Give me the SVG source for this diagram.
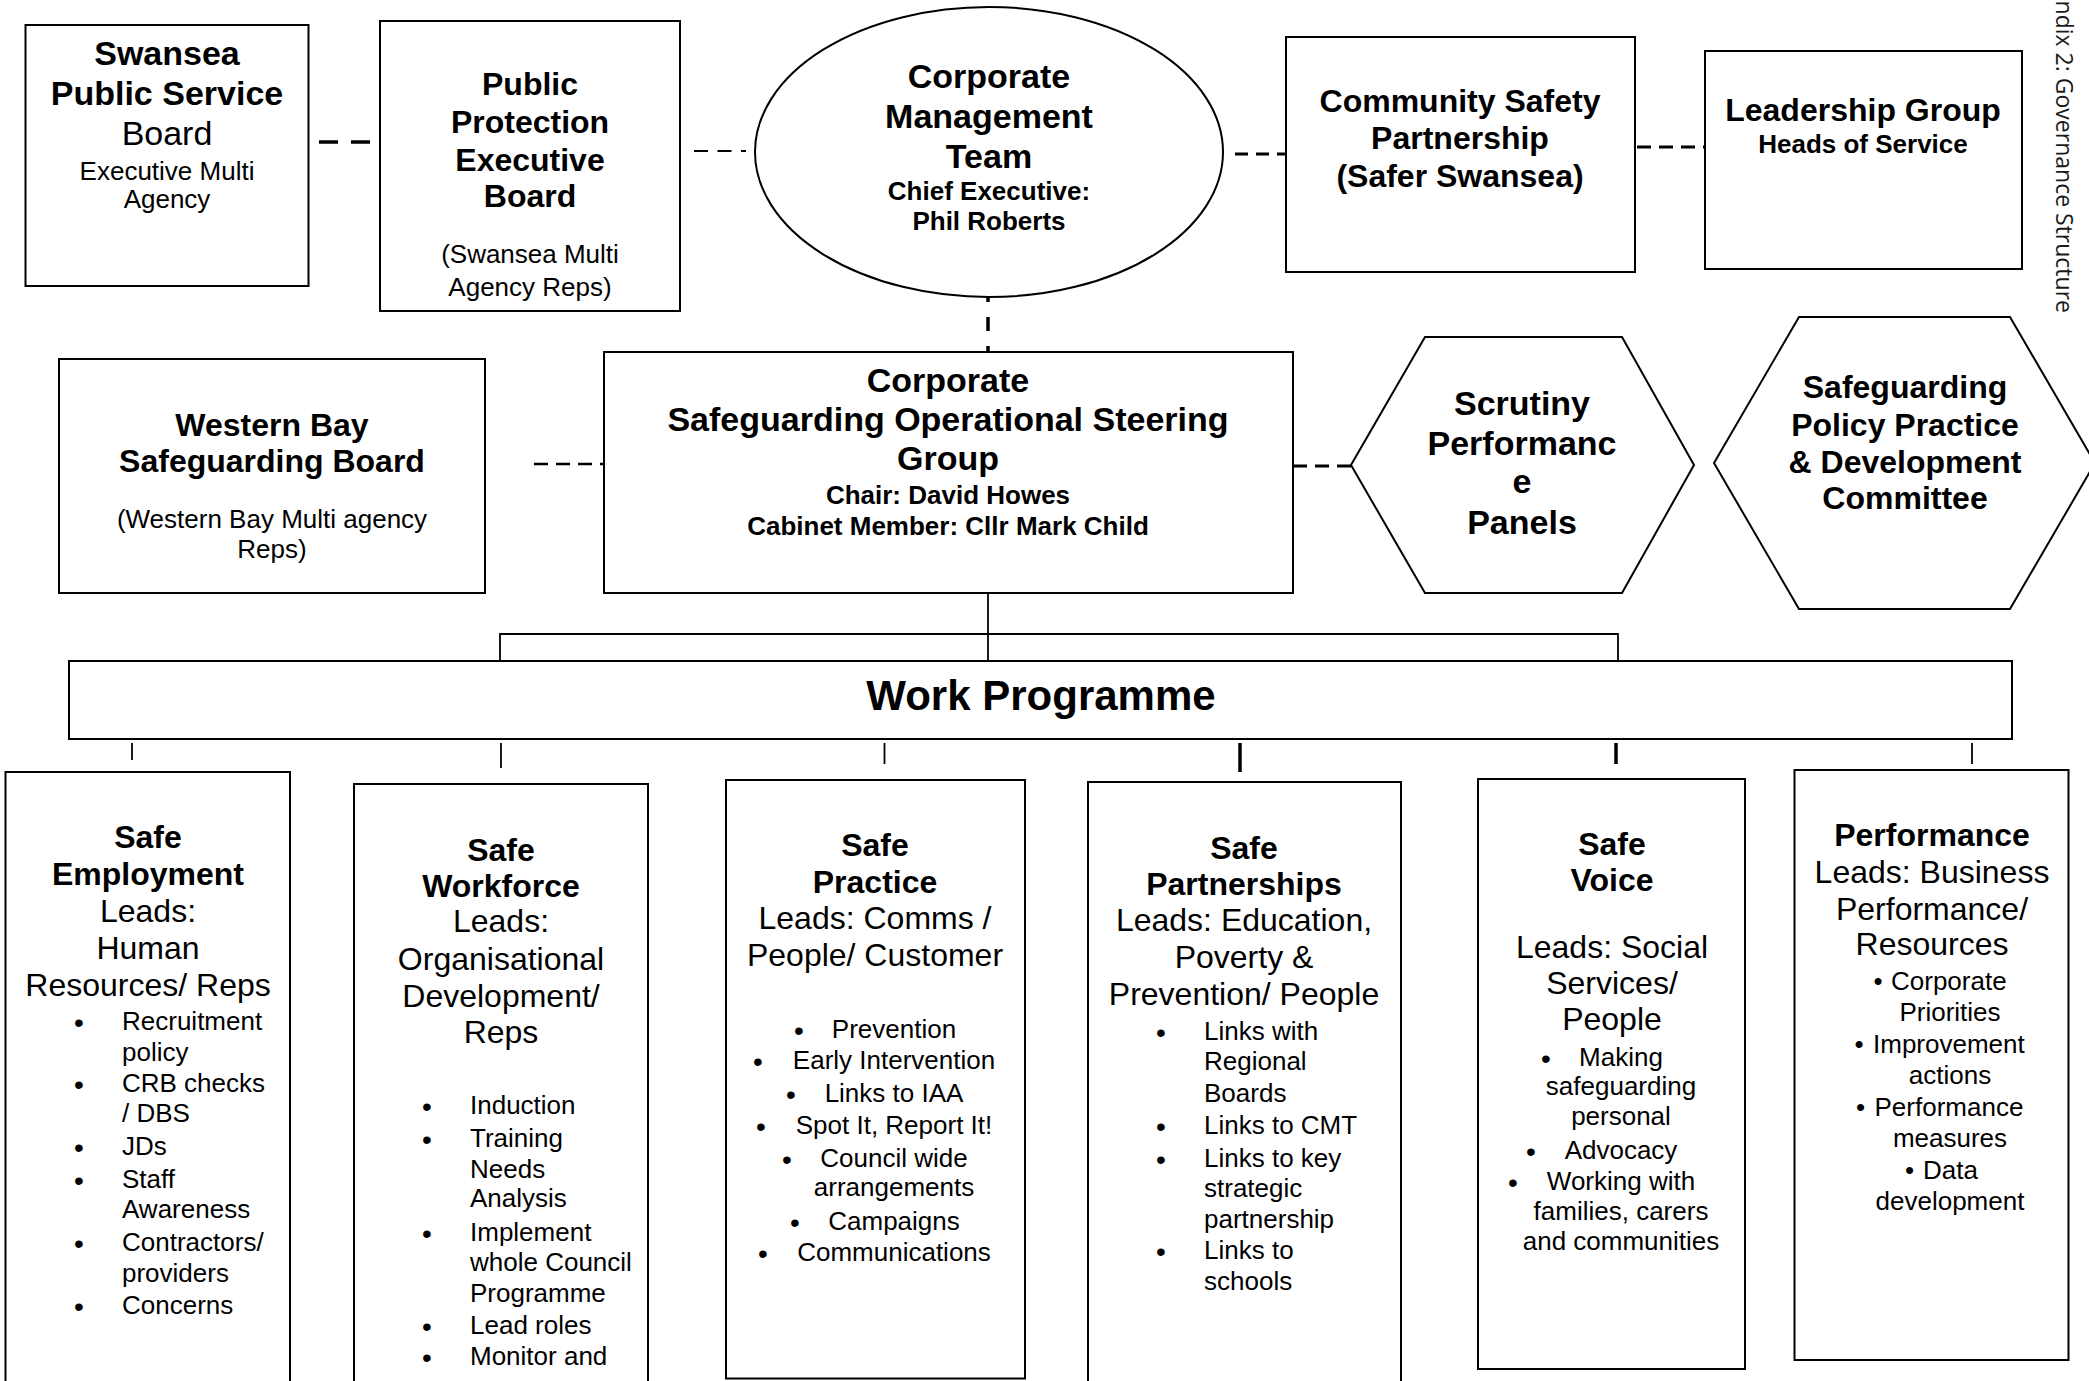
<svg xmlns="http://www.w3.org/2000/svg" width="2089" height="1381" viewBox="0 0 2089 1381">
<style>
text{font-family:"Liberation Sans",Arial,sans-serif;fill:#000}
.c{text-anchor:middle}
.b34{font-size:34px;font-weight:bold}
.b32{font-size:32px;font-weight:bold}
.b26{font-size:26px;font-weight:bold}
.b42{font-size:42px;font-weight:bold}
.r34{font-size:34px}
.r32{font-size:32px}
.r26{font-size:26px}
.bul{font-size:28px;text-anchor:middle}
.box{fill:#fff;stroke:#000;stroke-width:2}
.dash{stroke:#000;fill:none;stroke-width:3;stroke-dasharray:14 8}
.ln{stroke:#000;fill:none;stroke-width:1.8}
.side{font-family:"Open Sans","DejaVu Sans",sans-serif;font-size:23px;fill:#1a1a1a}
</style>
<rect width="2089" height="1381" fill="#fff"/>

<g id="connectors">
  <line class="dash" x1="319" y1="142" x2="370" y2="142" style="stroke-dasharray:19 13;stroke-width:3.5"/>
  <line class="dash" x1="694" y1="151" x2="746" y2="151" style="stroke-dasharray:14 9.5;stroke-width:2.2"/>
  <line class="dash" x1="1235" y1="154" x2="1286" y2="154" style="stroke-dasharray:13 8"/>
  <line class="dash" x1="1637" y1="147" x2="1705" y2="147"/>
  <line class="dash" x1="534" y1="464" x2="604" y2="464" style="stroke-width:2.5"/>
  <line class="dash" x1="1293" y1="466" x2="1351" y2="466"/>
  <line class="dash" x1="988" y1="288" x2="988" y2="352" style="stroke-dasharray:14 15;stroke-width:3.5"/>
  <line class="ln" x1="988" y1="585" x2="988" y2="661"/>
  <polyline class="ln" points="500,660 500,634 1618,634 1618,660"/>
  <line class="ln" x1="132" y1="743" x2="132" y2="760"/>
  <line class="ln" x1="501" y1="743" x2="501" y2="768"/>
  <line class="ln" x1="884.5" y1="743" x2="884.5" y2="764"/>
  <line class="ln" x1="1240" y1="743" x2="1240" y2="772" style="stroke-width:3.5"/>
  <line class="ln" x1="1616" y1="743" x2="1616" y2="764" style="stroke-width:3.5"/>
  <line class="ln" x1="1972" y1="743" x2="1972" y2="764"/>
</g>

<g id="swansea-psb">
  <rect class="box" x="25.5" y="25" width="283" height="261"/>
  <text class="c b34"><tspan x="167" y="65">Swansea</tspan><tspan x="167" y="105">Public Service</tspan></text>
  <text class="c r34" x="167" y="145">Board</text>
  <text class="c r26"><tspan x="167" y="180">Executive Multi</tspan><tspan x="167" y="208">Agency</tspan></text>
</g>

<g id="ppeb">
  <rect class="box" x="380" y="21" width="300" height="290"/>
  <text class="c b32"><tspan x="530" y="95">Public</tspan><tspan x="530" y="133">Protection</tspan><tspan x="530" y="171">Executive</tspan><tspan x="530" y="207">Board</tspan></text>
  <text class="c r26"><tspan x="530" y="263">(Swansea Multi</tspan><tspan x="530" y="296">Agency Reps)</tspan></text>
</g>

<g id="cmt">
  <ellipse class="box" cx="989" cy="152" rx="234" ry="145"/>
  <text class="c b34"><tspan x="989" y="88">Corporate</tspan><tspan x="989" y="128">Management</tspan><tspan x="989" y="168">Team</tspan></text>
  <text class="c b26"><tspan x="989" y="200">Chief Executive:</tspan><tspan x="989" y="230">Phil Roberts</tspan></text>
</g>

<g id="csp">
  <rect class="box" x="1286" y="37" width="349" height="235"/>
  <text class="c b32"><tspan x="1460" y="112">Community Safety</tspan><tspan x="1460" y="149">Partnership</tspan><tspan x="1460" y="187">(Safer Swansea)</tspan></text>
</g>

<g id="leadership">
  <rect class="box" x="1705" y="51" width="317" height="218"/>
  <text class="c b32" x="1863" y="121">Leadership Group</text>
  <text class="c b26" x="1863" y="153">Heads of Service</text>
</g>

<g id="side-title">
  <text class="side" transform="translate(2056,313) rotate(90)" text-anchor="end">Appendix 2: Governance Structure</text>
</g>

<g id="western-bay">
  <rect class="box" x="59" y="359" width="426" height="234"/>
  <text class="c b32"><tspan x="272" y="436">Western Bay</tspan><tspan x="272" y="472">Safeguarding Board</tspan></text>
  <text class="c r26"><tspan x="272" y="528">(Western Bay Multi agency</tspan><tspan x="272" y="558">Reps)</tspan></text>
</g>

<g id="csosg">
  <rect class="box" x="604" y="352" width="689" height="241"/>
  <text class="c b34"><tspan x="948" y="392">Corporate</tspan><tspan x="948" y="431">Safeguarding Operational Steering</tspan><tspan x="948" y="470">Group</tspan></text>
  <text class="c b26"><tspan x="948" y="504">Chair: David Howes</tspan><tspan x="948" y="535">Cabinet Member: Cllr Mark Child</tspan></text>
</g>

<g id="scrutiny">
  <polygon class="box" points="1351,465 1425,337 1622,337 1694,465 1622,593 1425,593"/>
  <text class="c b34"><tspan x="1522" y="415">Scrutiny</tspan><tspan x="1522" y="455">Performanc</tspan><tspan x="1522" y="493">e</tspan><tspan x="1522" y="534">Panels</tspan></text>
</g>

<g id="policy-committee">
  <polygon class="box" points="1714,463 1799,317 2010,317 2095,463 2010,609 1799,609"/>
  <text class="c b32"><tspan x="1905" y="398">Safeguarding</tspan><tspan x="1905" y="436">Policy Practice</tspan><tspan x="1905" y="473">&amp; Development</tspan><tspan x="1905" y="509">Committee</tspan></text>
</g>

<g id="work-programme">
  <rect class="box" x="69" y="661" width="1943" height="78"/>
  <text class="c b42" x="1041" y="710">Work Programme</text>
</g>

<g id="safe-employment">
  <rect class="box" x="5.5" y="772" width="284.5" height="640"/>
  <text class="c b32"><tspan x="148" y="848">Safe</tspan><tspan x="148" y="885">Employment</tspan></text>
  <text class="c r32"><tspan x="148" y="922">Leads:</tspan><tspan x="148" y="959">Human</tspan><tspan x="148" y="996">Resources/ Reps</tspan></text>
  <text class="bul" transform="translate(0,1.5)"><tspan x="79" y="1030">•</tspan><tspan x="79" y="1092">•</tspan><tspan x="79" y="1155">•</tspan><tspan x="79" y="1188">•</tspan><tspan x="79" y="1251">•</tspan><tspan x="79" y="1314">•</tspan></text>
  <text class="r26"><tspan x="122" y="1030">Recruitment</tspan><tspan x="122" y="1061">policy</tspan><tspan x="122" y="1092">CRB checks</tspan><tspan x="122" y="1122">/ DBS</tspan><tspan x="122" y="1155">JDs</tspan><tspan x="122" y="1188">Staff</tspan><tspan x="122" y="1218">Awareness</tspan><tspan x="122" y="1251">Contractors/</tspan><tspan x="122" y="1282">providers</tspan><tspan x="122" y="1314">Concerns</tspan></text>
</g>

<g id="safe-workforce">
  <rect class="box" x="354" y="784" width="294" height="630"/>
  <text class="c b32"><tspan x="501" y="861">Safe</tspan><tspan x="501" y="897">Workforce</tspan></text>
  <text class="c r32"><tspan x="501" y="932">Leads:</tspan><tspan x="501" y="970">Organisational</tspan><tspan x="501" y="1007">Development/</tspan><tspan x="501" y="1043">Reps</tspan></text>
  <text class="bul" transform="translate(0,1.5)"><tspan x="427" y="1114">•</tspan><tspan x="427" y="1147">•</tspan><tspan x="427" y="1241">•</tspan><tspan x="427" y="1334">•</tspan><tspan x="427" y="1365">•</tspan></text>
  <text class="r26"><tspan x="470" y="1114">Induction</tspan><tspan x="470" y="1147">Training</tspan><tspan x="470" y="1178">Needs</tspan><tspan x="470" y="1207">Analysis</tspan><tspan x="470" y="1241">Implement</tspan><tspan x="470" y="1271">whole Council</tspan><tspan x="470" y="1302">Programme</tspan><tspan x="470" y="1334">Lead roles</tspan><tspan x="470" y="1365">Monitor and</tspan></text>
</g>

<g id="safe-practice">
  <rect class="box" x="726" y="780" width="299" height="598.5"/>
  <text class="c b32"><tspan x="875" y="856">Safe</tspan><tspan x="875" y="893">Practice</tspan></text>
  <text class="c r32"><tspan x="875" y="929">Leads: Comms /</tspan><tspan x="875" y="966">People/ Customer</tspan></text>
  <text class="bul" transform="translate(0,1.5)"><tspan x="799" y="1038">•</tspan><tspan x="758" y="1069">•</tspan><tspan x="791" y="1102">•</tspan><tspan x="761" y="1134">•</tspan><tspan x="787" y="1167">•</tspan><tspan x="795" y="1230">•</tspan><tspan x="763" y="1261">•</tspan></text>
  <text class="c r26"><tspan x="894" y="1038">Prevention</tspan><tspan x="894" y="1069">Early Intervention</tspan><tspan x="894" y="1102">Links to IAA</tspan><tspan x="894" y="1134">Spot It, Report It!</tspan><tspan x="894" y="1167">Council wide</tspan><tspan x="894" y="1196">arrangements</tspan><tspan x="894" y="1230">Campaigns</tspan><tspan x="894" y="1261">Communications</tspan></text>
</g>

<g id="safe-partnerships">
  <rect class="box" x="1088" y="782" width="313" height="600"/>
  <text class="c b32"><tspan x="1244" y="859">Safe</tspan><tspan x="1244" y="895">Partnerships</tspan></text>
  <text class="c r32"><tspan x="1244" y="931">Leads: Education,</tspan><tspan x="1244" y="968">Poverty &amp;</tspan><tspan x="1244" y="1005">Prevention/ People</tspan></text>
  <text class="bul" transform="translate(0,1.5)"><tspan x="1161" y="1040">•</tspan><tspan x="1161" y="1134">•</tspan><tspan x="1161" y="1167">•</tspan><tspan x="1161" y="1259">•</tspan></text>
  <text class="r26"><tspan x="1204" y="1040">Links with</tspan><tspan x="1204" y="1070">Regional</tspan><tspan x="1204" y="1102">Boards</tspan><tspan x="1204" y="1134">Links to CMT</tspan><tspan x="1204" y="1167">Links to key</tspan><tspan x="1204" y="1197">strategic</tspan><tspan x="1204" y="1228">partnership</tspan><tspan x="1204" y="1259">Links to</tspan><tspan x="1204" y="1290">schools</tspan></text>
</g>

<g id="safe-voice">
  <rect class="box" x="1478" y="779" width="267" height="590"/>
  <text class="c b32"><tspan x="1612" y="855">Safe</tspan><tspan x="1612" y="891">Voice</tspan></text>
  <text class="c r32"><tspan x="1612" y="958">Leads: Social</tspan><tspan x="1612" y="994">Services/</tspan><tspan x="1612" y="1030">People</tspan></text>
  <text class="bul" transform="translate(0,1.5)"><tspan x="1546" y="1066">•</tspan><tspan x="1531" y="1159">•</tspan><tspan x="1513" y="1190">•</tspan></text>
  <text class="c r26"><tspan x="1621" y="1066">Making</tspan><tspan x="1621" y="1095">safeguarding</tspan><tspan x="1621" y="1125">personal</tspan><tspan x="1621" y="1159">Advocacy</tspan><tspan x="1621" y="1190">Working with</tspan><tspan x="1621" y="1220">families, carers</tspan><tspan x="1621" y="1250">and communities</tspan></text>
</g>

<g id="performance">
  <rect class="box" x="1794.5" y="770" width="274" height="590"/>
  <text class="c b32" x="1932" y="846">Performance</text>
  <text class="c r32"><tspan x="1932" y="883">Leads: Business</tspan><tspan x="1932" y="920">Performance/</tspan><tspan x="1932" y="955">Resources</tspan></text>
  <text class="c r26"><tspan x="1878" y="990">•</tspan><tspan x="1859" y="1053">•</tspan><tspan x="1860.5" y="1116">•</tspan><tspan x="1909.5" y="1179">•</tspan></text>
  <text class="r26"><tspan x="1891" y="990">Corporate</tspan><tspan x="1873" y="1053">Improvement</tspan><tspan x="1874.5" y="1116">Performance</tspan><tspan x="1923" y="1179">Data</tspan></text>
  <text class="c r26"><tspan x="1950" y="1021">Priorities</tspan><tspan x="1950" y="1084">actions</tspan><tspan x="1950" y="1147">measures</tspan><tspan x="1950" y="1210">development</tspan></text>
</g>
</svg>
